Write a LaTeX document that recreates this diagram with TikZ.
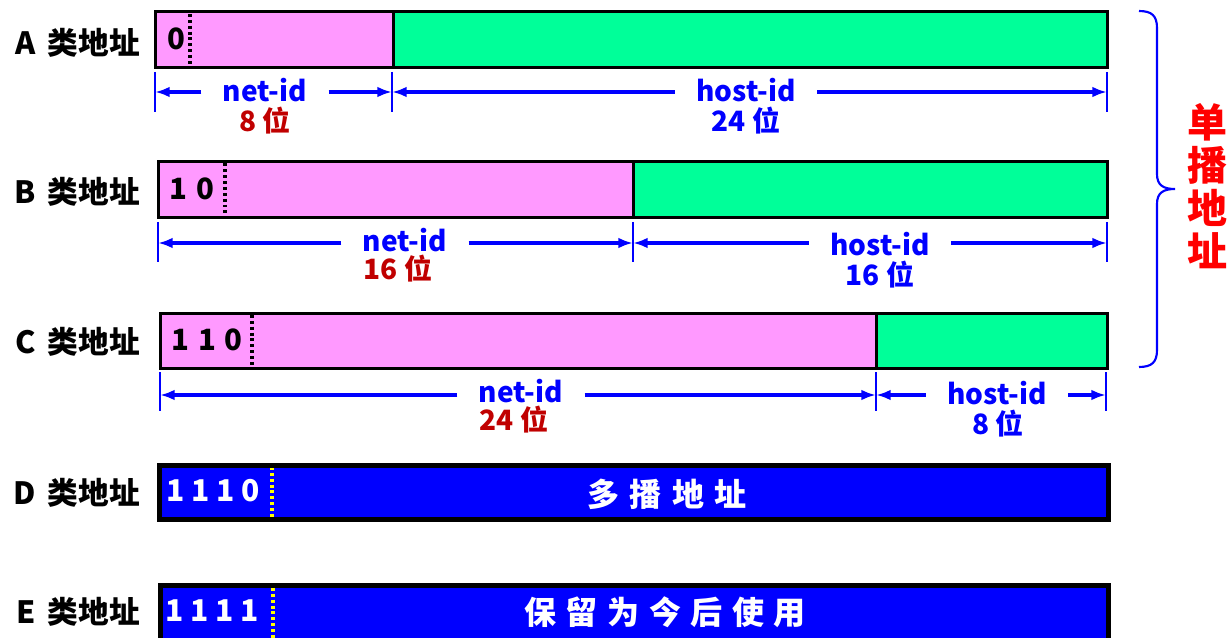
\documentclass[tikz,border=0pt]{standalone}
\usepackage{fontspec}
\setmainfont{Noto Sans CJK SC}
\usetikzlibrary{arrows.meta}
\definecolor{pinkc}{HTML}{FF99FF}
\definecolor{greenc}{HTML}{00FF99}
\definecolor{bluec}{HTML}{0000FF}
\definecolor{darkredc}{HTML}{C00000}
\definecolor{redc}{HTML}{FF0000}
\definecolor{yellowc}{HTML}{FFFF00}
\begin{document}
\begin{tikzpicture}[x=0.75pt,y=-0.75pt,
  classlbl/.style={font=\fontsize{23}{26}\selectfont\bfseries, anchor=east, inner sep=0pt},
  boxline/.style={draw=black, line width=2.25pt},
  bigboxline/.style={draw=black, line width=3.75pt},
  splitline/.style={draw=black, line width=2.25pt},
  dotline/.style={draw=black, line width=2.7pt, dash pattern=on 2.2pt off 2.2pt},
  ydotline/.style={draw=yellowc, line width=2.7pt, dash pattern=on 2.2pt off 2.2pt},
  dimline/.style={draw=bluec, line width=2.6pt, -{Latex[length=11pt,width=8pt]}},
  tickline/.style={draw=bluec, line width=1.5pt},
  idlbl/.style={font=\fontsize{21}{24}\selectfont\bfseries, text=bluec, inner xsep=16pt, inner ysep=0pt},
  bitsred/.style={font=\fontsize{21}{24}\selectfont\bfseries, text=darkredc, inner sep=0pt},
  bitsblue/.style={font=\fontsize{21}{24}\selectfont\bfseries, text=bluec, inner sep=0pt},
  bitlbl/.style={font=\fontsize{22}{24}\selectfont\bfseries, inner sep=0pt},
  wbitlbl/.style={font=\fontsize{22.5}{26}\selectfont\bfseries, text=white, inner sep=0pt},
  wtext/.style={font=\fontsize{24}{28}\selectfont\bfseries, text=white, inner sep=0pt}]
\useasboundingbox (0,0) rectangle (1229,638);
\clip (0,0) rectangle (1229,638);

% ---------- A ----------
\node[classlbl] (la) at (140,43) {A\hspace{0.4em}类地址};
\fill[pinkc] (155.5,12) rectangle (393,67.5);
\fill[greenc] (393,12) rectangle (1107.5,67.5);
\draw[splitline] (393,12) -- (393,67.5);
\draw[dotline] (190,14) -- (190,66);
\draw[boxline] (155.5,12) rectangle (1107.5,67.5);
\node[bitlbl] (ba) at (176,39) {0};
\coordinate (ta0) at (155,92);
\coordinate (ta1) at (392,92);
\coordinate (ta2) at (1107,92);
\draw[tickline] (155,72) -- (155,112);
\draw[tickline] (392,72) -- (392,112);
\draw[tickline] (1107,72) -- (1107,112);
\node[idlbl] (na) at (265,90) {net-id};
\node[bitsred] (na2) at (265,121) {8 位};
\draw[dimline] (na.west |- ta0) -- (ta0);
\draw[dimline] (na.east |- ta0) -- (ta1);
\node[idlbl] (ha) at (746,90) {host-id};
\node[bitsblue] (ha2) at (746,121) {24 位};
\draw[dimline] (ha.west |- ta0) -- (ta1);
\draw[dimline] (ha.east |- ta0) -- (ta2);

% ---------- B ----------
\node[classlbl] (lb) at (140,192) {B\hspace{0.4em}类地址};
\fill[pinkc] (158.5,161.5) rectangle (633,217.5);
\fill[greenc] (633,161.5) rectangle (1107.5,217.5);
\draw[splitline] (633,161.5) -- (633,217.5);
\draw[dotline] (225,163.5) -- (225,215.5);
\draw[boxline] (158.5,161.5) rectangle (1107.5,217.5);
\node[bitlbl] (bb) at (192,189) {1\hspace{0.3em}0};
\coordinate (tb0) at (158,243);
\coordinate (tb1) at (633,243);
\coordinate (tb2) at (1107,243);
\draw[tickline] (158,222) -- (158,262);
\draw[tickline] (633,222) -- (633,262);
\draw[tickline] (1107,222) -- (1107,262);
\node[idlbl] (nb) at (405,240) {net-id};
\node[bitsred] (nb2) at (398,269) {16 位};
\draw[dimline] (nb.west |- tb0) -- (tb0);
\draw[dimline] (nb.east |- tb0) -- (tb1);
\node[idlbl] (hb) at (880,244) {host-id};
\node[bitsblue] (hb2) at (880,275) {16 位};
\draw[dimline] (hb.west |- tb0) -- (tb1);
\draw[dimline] (hb.east |- tb0) -- (tb2);

% ---------- C ----------
\node[classlbl] (lc) at (140,342) {C\hspace{0.4em}类地址};
\fill[pinkc] (160,313) rectangle (876,368);
\fill[greenc] (876,313) rectangle (1107,368);
\draw[splitline] (876,313) -- (876,368);
\draw[dotline] (252,315) -- (252,366);
\draw[boxline] (160,313) rectangle (1107,368);
\node[bitlbl] (bc) at (207,340) {1\hspace{0.3em}1\hspace{0.3em}0};
\coordinate (tc0) at (160,395);
\coordinate (tc1) at (876,395);
\coordinate (tc2) at (1106,395);
\draw[tickline] (160,372) -- (160,411);
\draw[tickline] (876,372) -- (876,411);
\draw[tickline] (1106,372) -- (1106,411);
\node[idlbl] (nc) at (521,391) {net-id};
\node[bitsred] (nc2) at (514,420) {24 位};
\draw[dimline] (nc.west |- tc0) -- (tc0);
\draw[dimline] (nc.east |- tc0) -- (tc1);
\node[idlbl] (hc) at (997,393) {host-id};
\node[bitsblue] (hc2) at (998,424) {8 位};
\draw[dimline] (hc.west |- tc0) -- (tc1);
\draw[dimline] (hc.east |- tc0) -- (tc2);

% ---------- D ----------
\node[classlbl] (ld) at (140,493) {D\hspace{0.4em}类地址};
\fill[bluec] (159.5,465) rectangle (1108.5,519.5);
\draw[ydotline] (272,467) -- (272,517.5);
\draw[bigboxline] (159.5,465) rectangle (1108.5,519.5);
\node[wbitlbl] (bd) at (213,491) {1 1 1 0};
\node[wtext] (md) at (667,494) {多\hspace{0.33em}播\hspace{0.33em}地\hspace{0.33em}址};

% ---------- E ----------
\node[classlbl] (le) at (140,612) {E\hspace{0.4em}类地址};
\fill[bluec] (160.5,585.5) rectangle (1108.5,643);
\draw[ydotline] (273,588) -- (273,640);
\draw[bigboxline] (160.5,585.5) rectangle (1108.5,643);
\node[wbitlbl] (be) at (212,611) {1 1 1 1};
\node[wtext] (me) at (665,612) {保\hspace{0.3em}留\hspace{0.3em}为\hspace{0.3em}今\hspace{0.3em}后\hspace{0.3em}使\hspace{0.3em}用};

% ---------- brace ----------
\draw[draw=bluec, line width=1.6pt]
  (1139,11) .. controls (1152,11) and (1157,16) .. (1157,28)
  -- (1157,174) .. controls (1157,185) and (1163,189) .. (1175,189)
  .. controls (1163,189) and (1157,193) .. (1157,204)
  -- (1157,350) .. controls (1157,362) and (1152,367) .. (1139,367);
\node[font=\fontsize{30}{32.25}\selectfont\bfseries, text=redc, align=center, inner sep=0pt] (uni) at (1207,186) {单\\播\\地\\址};
\end{tikzpicture}
\end{document}
